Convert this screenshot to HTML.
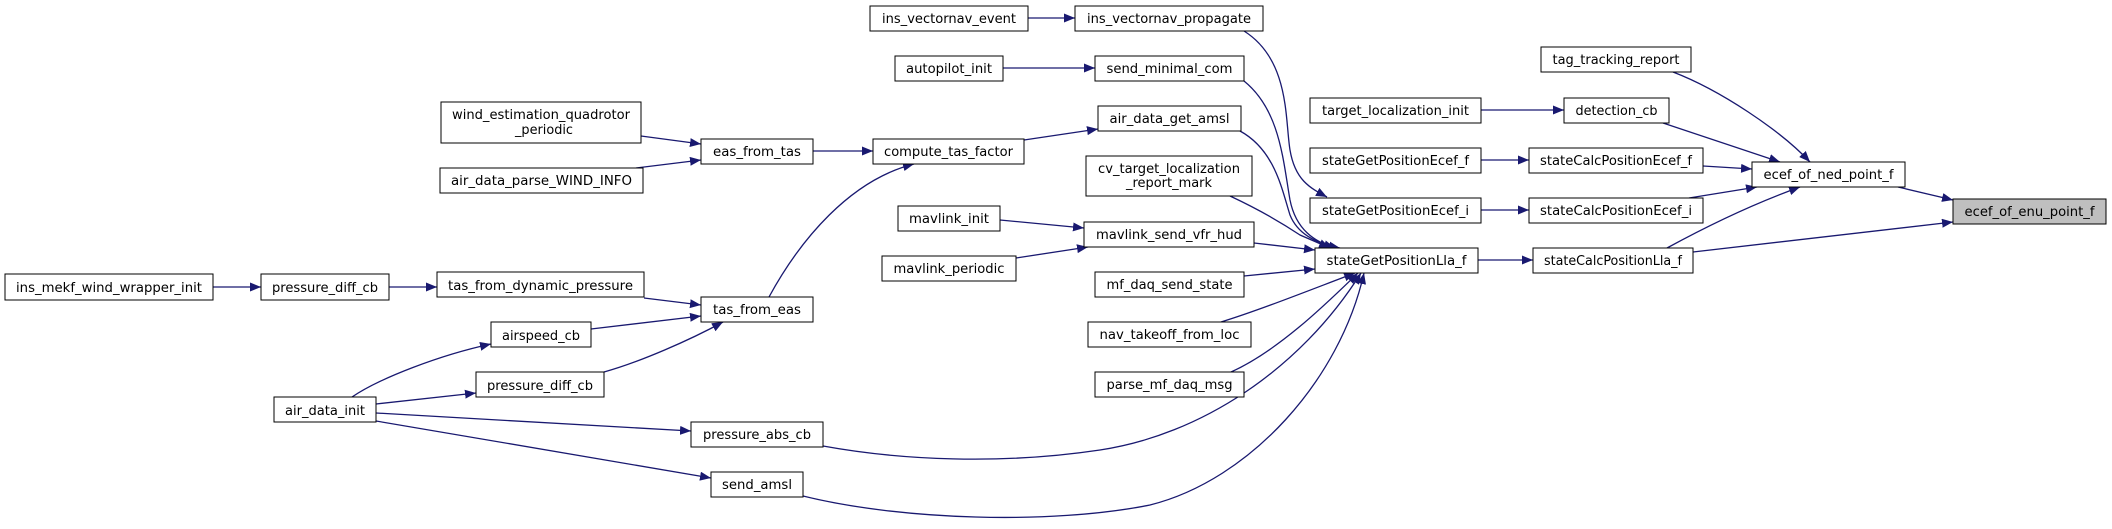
<!DOCTYPE html>
<html><head><meta charset="utf-8"><style>
html,body{margin:0;padding:0;background:#fff;}
svg{display:block;}
text{font-family:"DejaVu Sans","Liberation Sans",sans-serif;font-size:13px;fill:#000;}
</style></head><body>
<svg width="2112" height="529" viewBox="0 0 2112 529" xmlns="http://www.w3.org/2000/svg">
<defs>
<marker id="a" markerUnits="userSpaceOnUse" markerWidth="12" markerHeight="10" refX="11" refY="4.5" orient="auto">
<path d="M0,0 L11,4.5 L0,9 z" fill="#191970"/>
</marker>
</defs>
<g fill="none" stroke="#191970" stroke-width="1.3" marker-end="url(#a)">
<path d="M213,287 L261,287"/>
<path d="M389,287 L437,287"/>
<path d="M644,298 L701,305"/>
<path d="M591,329 L701,316"/>
<path d="M604,372 C640,362 690,340 723,322"/>
<path d="M352,397 C380,378 440,355 491,344"/>
<path d="M376,404 L476,393"/>
<path d="M376,413 L691,431"/>
<path d="M376,421 L711,478"/>
<path d="M641,136 L701,144"/>
<path d="M636,168 L701,160"/>
<path d="M813,151 L873,151"/>
<path d="M769,297 C800,240 850,180 914,164"/>
<path d="M1024,140 L1098,129"/>
<path d="M1028,18 L1075,18"/>
<path d="M1244,31 C1290,60 1285,120 1290,150 C1295,180 1310,188 1327,197"/>
<path d="M1003,68 L1095,68"/>
<path d="M1244,81 C1280,110 1283,160 1290,200 C1296,230 1315,242 1335,248"/>
<path d="M1240,131 C1275,150 1282,190 1290,215 C1298,235 1318,244 1340,248"/>
<path d="M1230,196 C1260,210 1285,225 1300,235 L1330,248"/>
<path d="M1000,220 L1084,228"/>
<path d="M1016,258 L1088,247"/>
<path d="M1254,243 L1315,250"/>
<path d="M1244,276 L1315,269"/>
<path d="M1221,322 C1260,310 1310,290 1355,273"/>
<path d="M1231,372 C1280,350 1330,300 1358,273"/>
<path d="M823,446 C900,460 1000,465 1100,450 C1200,435 1300,370 1361,273"/>
<path d="M803,496 C900,520 1050,525 1150,505 C1250,480 1340,380 1364,273"/>
<path d="M1481,160 L1529,160"/>
<path d="M1481,210 L1529,210"/>
<path d="M1478,260 L1533,260"/>
<path d="M1481,110 L1564,110"/>
<path d="M1673,72 C1720,90 1780,130 1810,162"/>
<path d="M1663,123 L1780,162"/>
<path d="M1703,166 L1752,169"/>
<path d="M1689,198 L1757,187"/>
<path d="M1667,248 C1700,230 1750,205 1800,187"/>
<path d="M1898,187 L1953,200"/>
<path d="M1693,252 L1953,222"/>
</g>
<g stroke="#000" stroke-width="1" fill="#fff">
<rect x="5" y="274" width="208" height="26"/>
<rect x="261" y="274" width="128" height="26"/>
<rect x="437" y="272" width="207" height="25"/>
<rect x="441" y="102" width="200" height="41"/>
<rect x="440" y="168" width="203" height="25"/>
<rect x="491" y="322" width="100" height="25"/>
<rect x="476" y="372" width="128" height="25"/>
<rect x="274" y="397" width="102" height="25"/>
<rect x="701" y="139" width="112" height="25"/>
<rect x="701" y="297" width="112" height="25"/>
<rect x="873" y="139" width="151" height="25"/>
<rect x="691" y="422" width="132" height="25"/>
<rect x="711" y="472" width="92" height="25"/>
<rect x="870" y="6" width="158" height="25"/>
<rect x="1075" y="6" width="188" height="25"/>
<rect x="895" y="56" width="108" height="25"/>
<rect x="1095" y="56" width="149" height="25"/>
<rect x="1098" y="106" width="143" height="25"/>
<rect x="1086" y="156" width="166" height="40"/>
<rect x="898" y="206" width="102" height="25"/>
<rect x="1084" y="222" width="170" height="25"/>
<rect x="882" y="256" width="134" height="25"/>
<rect x="1095" y="272" width="149" height="25"/>
<rect x="1088" y="322" width="163" height="25"/>
<rect x="1095" y="372" width="149" height="25"/>
<rect x="1315" y="248" width="163" height="25"/>
<rect x="1310" y="198" width="171" height="25"/>
<rect x="1310" y="148" width="171" height="25"/>
<rect x="1310" y="98" width="171" height="25"/>
<rect x="1541" y="47" width="150" height="25"/>
<rect x="1564" y="98" width="105" height="25"/>
<rect x="1529" y="148" width="174" height="25"/>
<rect x="1529" y="198" width="174" height="25"/>
<rect x="1533" y="248" width="160" height="25"/>
<rect x="1752" y="162" width="153" height="25"/>
<rect x="1953" y="199" width="153" height="25" fill="#bfbfbf"/>
</g>
<g text-anchor="middle">
<text x="109" y="292" textLength="186" lengthAdjust="spacingAndGlyphs">ins_mekf_wind_wrapper_init</text>
<text x="325" y="292" textLength="106" lengthAdjust="spacingAndGlyphs">pressure_diff_cb</text>
<text x="540.5" y="290" textLength="185" lengthAdjust="spacingAndGlyphs">tas_from_dynamic_pressure</text>
<text x="541" y="119" textLength="178" lengthAdjust="spacingAndGlyphs">wind_estimation_quadrotor</text>
<text x="544" y="134" textLength="58" lengthAdjust="spacingAndGlyphs">_periodic</text>
<text x="541.5" y="185" textLength="181" lengthAdjust="spacingAndGlyphs">air_data_parse_WIND_INFO</text>
<text x="541" y="340" textLength="78" lengthAdjust="spacingAndGlyphs">airspeed_cb</text>
<text x="540" y="390" textLength="106" lengthAdjust="spacingAndGlyphs">pressure_diff_cb</text>
<text x="325" y="415" textLength="80" lengthAdjust="spacingAndGlyphs">air_data_init</text>
<text x="757" y="156" textLength="88" lengthAdjust="spacingAndGlyphs">eas_from_tas</text>
<text x="757" y="314" textLength="88" lengthAdjust="spacingAndGlyphs">tas_from_eas</text>
<text x="948.5" y="156" textLength="129" lengthAdjust="spacingAndGlyphs">compute_tas_factor</text>
<text x="757" y="439" textLength="108" lengthAdjust="spacingAndGlyphs">pressure_abs_cb</text>
<text x="757" y="489" textLength="70" lengthAdjust="spacingAndGlyphs">send_amsl</text>
<text x="949" y="23" textLength="134" lengthAdjust="spacingAndGlyphs">ins_vectornav_event</text>
<text x="1169" y="23" textLength="164" lengthAdjust="spacingAndGlyphs">ins_vectornav_propagate</text>
<text x="949" y="73" textLength="86" lengthAdjust="spacingAndGlyphs">autopilot_init</text>
<text x="1169.5" y="73" textLength="126" lengthAdjust="spacingAndGlyphs">send_minimal_com</text>
<text x="1169.5" y="123" textLength="120" lengthAdjust="spacingAndGlyphs">air_data_get_amsl</text>
<text x="1169" y="173" textLength="142" lengthAdjust="spacingAndGlyphs">cv_target_localization</text>
<text x="1169" y="187" textLength="86" lengthAdjust="spacingAndGlyphs">_report_mark</text>
<text x="949" y="223" textLength="80" lengthAdjust="spacingAndGlyphs">mavlink_init</text>
<text x="1169" y="239" textLength="146" lengthAdjust="spacingAndGlyphs">mavlink_send_vfr_hud</text>
<text x="949" y="273" textLength="111" lengthAdjust="spacingAndGlyphs">mavlink_periodic</text>
<text x="1169.5" y="289" textLength="126" lengthAdjust="spacingAndGlyphs">mf_daq_send_state</text>
<text x="1169.5" y="339" textLength="140" lengthAdjust="spacingAndGlyphs">nav_takeoff_from_loc</text>
<text x="1169.5" y="389" textLength="126" lengthAdjust="spacingAndGlyphs">parse_mf_daq_msg</text>
<text x="1396.5" y="265" textLength="140" lengthAdjust="spacingAndGlyphs">stateGetPositionLla_f</text>
<text x="1395.5" y="215" textLength="147" lengthAdjust="spacingAndGlyphs">stateGetPositionEcef_i</text>
<text x="1395.5" y="165" textLength="147" lengthAdjust="spacingAndGlyphs">stateGetPositionEcef_f</text>
<text x="1395.5" y="115" textLength="147" lengthAdjust="spacingAndGlyphs">target_localization_init</text>
<text x="1616" y="64" textLength="127" lengthAdjust="spacingAndGlyphs">tag_tracking_report</text>
<text x="1616.5" y="115" textLength="82" lengthAdjust="spacingAndGlyphs">detection_cb</text>
<text x="1616" y="165" textLength="152" lengthAdjust="spacingAndGlyphs">stateCalcPositionEcef_f</text>
<text x="1616" y="215" textLength="152" lengthAdjust="spacingAndGlyphs">stateCalcPositionEcef_i</text>
<text x="1613" y="265" textLength="138" lengthAdjust="spacingAndGlyphs">stateCalcPositionLla_f</text>
<text x="1828.5" y="179" textLength="130" lengthAdjust="spacingAndGlyphs">ecef_of_ned_point_f</text>
<text x="2029.5" y="216" textLength="130" lengthAdjust="spacingAndGlyphs">ecef_of_enu_point_f</text>
</g>
</svg>
</body></html>
